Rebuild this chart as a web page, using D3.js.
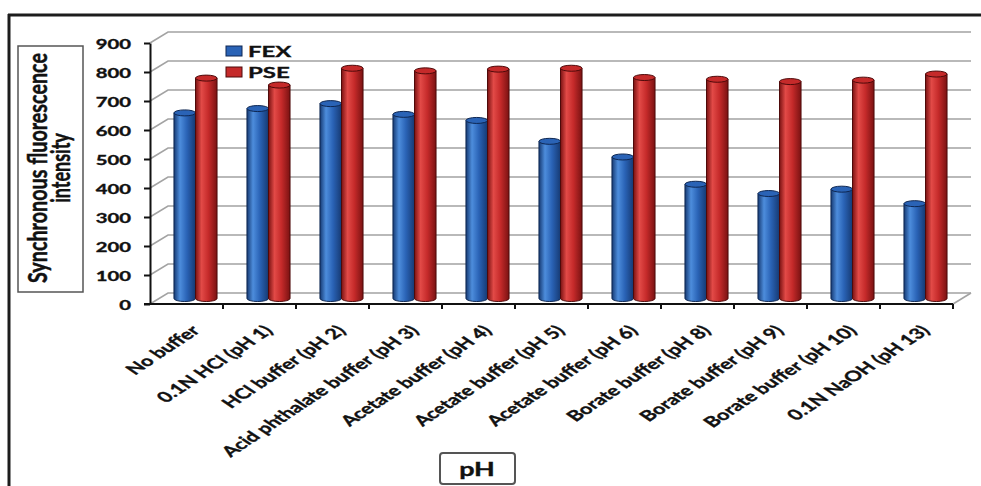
<!DOCTYPE html>
<html>
<head>
<meta charset="utf-8">
<script src="https://cdn.jsdelivr.net/npm/d3@7"></script>
<style>
  html, body { margin: 0; padding: 0; background: #fff; }
  svg { display: block; }
  text { font-family: Lato, "Liberation Sans", Arial, sans-serif; font-weight: bold; fill: #111;
         stroke: #111; stroke-width: 0.35px; }
</style>
</head>
<body>
<svg id="chart" width="981" height="486"></svg>
<script>
// Buffer conditions tested
const categories = [
  "No buffer", "0.1N HCl (pH 1)", "HCl buffer (pH 2)", "Acid phthalate buffer (pH 3)",
  "Acetate buffer (pH 4)", "Acetate buffer (pH 5)", "Acetate buffer (pH 6)",
  "Borate buffer (pH 8)", "Borate buffer (pH 9)", "Borate buffer (pH 10)", "0.1N NaOH (pH 13)"
];
const seriesNames = ["FEX", "PSE"];
const fexValues = [640, 655, 672, 635, 614, 542, 488, 394, 362, 377, 327];
const pseValues = [760, 736, 794, 785, 791, 794, 762, 756, 748, 753, 774];
const yTicks = [0, 100, 200, 300, 400, 500, 600, 700, 800, 900];

const series = [
  { name: seriesNames[0], values: fexValues, dark: "#163a73", mid: "#2a63b6", light: "#4d8ddc", edge: "#0e2752" },
  { name: seriesNames[1], values: pseValues, dark: "#7a1212", mid: "#c52a2a", light: "#e24a47", edge: "#4e0a0a" }
];

const svg = d3.select("#chart");
const SX = 1.5;          // horizontal stretch of all lettering
const DX = 18, DY = -11; // depth offset of the back wall

const y = d3.scaleLinear().domain([0, 900]).range([304, 43]);
const x0 = d3.scaleBand().domain(categories).range([150, 953]).paddingInner(0.41).paddingOuter(0.205);
const x1 = d3.scaleBand().domain(seriesNames).range([0, x0.bandwidth()]);

// outer frame
svg.append("line").attr("x1", 8).attr("x2", 981).attr("y1", 15).attr("y2", 15)
  .attr("stroke", "#1c1c1c").attr("stroke-width", 3);
svg.append("line").attr("x1", 9).attr("x2", 9).attr("y1", 14).attr("y2", 486)
  .attr("stroke", "#1c1c1c").attr("stroke-width", 3);

// gradients for the cylinders
const defs = svg.append("defs");
series.forEach((s, i) => {
  const g = defs.append("linearGradient").attr("id", "grad" + i)
    .attr("x1", 0).attr("x2", 1).attr("y1", 0).attr("y2", 0);
  g.append("stop").attr("offset", 0).attr("stop-color", s.dark);
  g.append("stop").attr("offset", 0.28).attr("stop-color", s.light);
  g.append("stop").attr("offset", 0.6).attr("stop-color", s.mid);
  g.append("stop").attr("offset", 1).attr("stop-color", s.dark);
});

// left wall and back wall gridlines
const grid = svg.append("g").attr("stroke", "#a3a3a3").attr("stroke-width", 1.6).attr("fill", "none");
yTicks.forEach(t => {
  grid.append("path").attr("d",
    `M${x0.range()[0]},${y(t)} L${x0.range()[0] + DX},${y(t) + DY} L${971},${y(t) + DY}`);
});
// floor right edge
grid.append("line").attr("x1", x0.range()[1]).attr("y1", y(0))
  .attr("x2", x0.range()[1] + DX).attr("y2", y(0) + DY);

// cylinders
const ry = 3;
const groups = svg.append("g").selectAll("g").data(categories).join("g")
  .attr("transform", d => `translate(${x0(d) + DX / 2},0)`);

series.forEach((s, si) => {
  groups.each(function (c, ci) {
    const v = s.values[ci];
    const xl = x1(s.name), w = x1.bandwidth();
    const yt = y(v) + DY / 2, yb = y(0) + DY / 2;
    const rx = w / 2;
    const g = d3.select(this);
    g.append("path")
      .attr("d", `M${xl},${yt} L${xl},${yb} A${rx},${ry} 0 0 0 ${xl + w},${yb} L${xl + w},${yt} Z`)
      .attr("fill", `url(#grad${si})`).attr("stroke", s.edge).attr("stroke-width", 1);
    g.append("ellipse").attr("cx", xl + rx).attr("cy", yt).attr("rx", rx).attr("ry", ry)
      .attr("fill", s.mid).attr("stroke", s.edge).attr("stroke-width", 1);
  });
});

// y axis
const yAxis = svg.append("g").attr("transform", `translate(${x0.range()[0]},0)`)
  .call(d3.axisLeft(y).tickValues(yTicks).tickSize(6).tickPadding(0).tickSizeOuter(0));
yAxis.select(".domain").attr("stroke", "#111").attr("stroke-width", 2);
yAxis.selectAll(".tick line").attr("stroke", "#111").attr("stroke-width", 2);
yAxis.selectAll(".tick text")
  .attr("x", null).attr("dy", null)
  .attr("transform", `translate(-19,5) scale(${SX},1)`)
  .attr("text-anchor", "end").attr("fill", "#111")
  .style("font-size", "13.5px").style("font-family", 'Lato, "Liberation Sans", Arial, sans-serif')
  .style("font-weight", "bold");

// x axis with boundary ticks
const xAxisG = svg.append("g");
xAxisG.append("line").attr("x1", x0.range()[0] - 6).attr("x2", x0.range()[1])
  .attr("y1", y(0)).attr("y2", y(0)).attr("stroke", "#111").attr("stroke-width", 2);
xAxisG.selectAll("line.tk").data(categories).join("line").attr("class", "tk")
  .attr("x1", d => x0(d) - x0.step() * x0.paddingOuter() + x0.step())
  .attr("x2", d => x0(d) - x0.step() * x0.paddingOuter() + x0.step())
  .attr("y1", y(0)).attr("y2", y(0) + 5)
  .attr("stroke", "#111").attr("stroke-width", 2);
xAxisG.selectAll("text.cat").data(categories).join("text").attr("class", "cat")
  .attr("transform", d => `translate(${x0(d) + x0.bandwidth() / 2 + 9},328) scale(${SX},1) rotate(-45)`)
  .attr("text-anchor", "end").attr("dy", "0.35em").style("font-size", "14.5px")
  .text(d => d);

// y axis title
svg.append("rect").attr("x", 18).attr("y", 46).attr("width", 65).attr("height", 246)
  .attr("fill", "#fff").attr("stroke", "#555").attr("stroke-width", 1.5);
const yTitle = svg.append("g").attr("transform", `translate(50,168) scale(${SX},1) rotate(-90)`);
yTitle.append("text").attr("text-anchor", "middle").attr("y", -2).style("font-size", "18px")
  .attr("textLength", 230).attr("lengthAdjust", "spacingAndGlyphs")
  .text("Synchronous fluorescence");
yTitle.append("text").attr("text-anchor", "middle").attr("y", 13).style("font-size", "18px")
  .text("intensity");

// x axis title
svg.append("rect").attr("x", 440).attr("y", 453).attr("width", 75).attr("height", 31)
  .attr("rx", 3).attr("fill", "#fff").attr("stroke", "#555").attr("stroke-width", 2);
svg.append("text").attr("transform", `translate(477,476) scale(${SX},1)`)
  .attr("text-anchor", "middle").style("font-size", "18px").text("pH");

// legend
const legend = svg.append("g").selectAll("g").data(series).join("g")
  .attr("transform", (d, i) => `translate(226,${46 + i * 21})`);
legend.append("rect").attr("width", 16).attr("height", 10)
  .attr("fill", d => d.mid).attr("stroke", d => d.edge).attr("stroke-width", 1);
legend.append("text").attr("transform", `translate(22,11) scale(${SX},1)`)
  .style("font-size", "16px").text(d => d.name);
</script>
</body>
</html>
